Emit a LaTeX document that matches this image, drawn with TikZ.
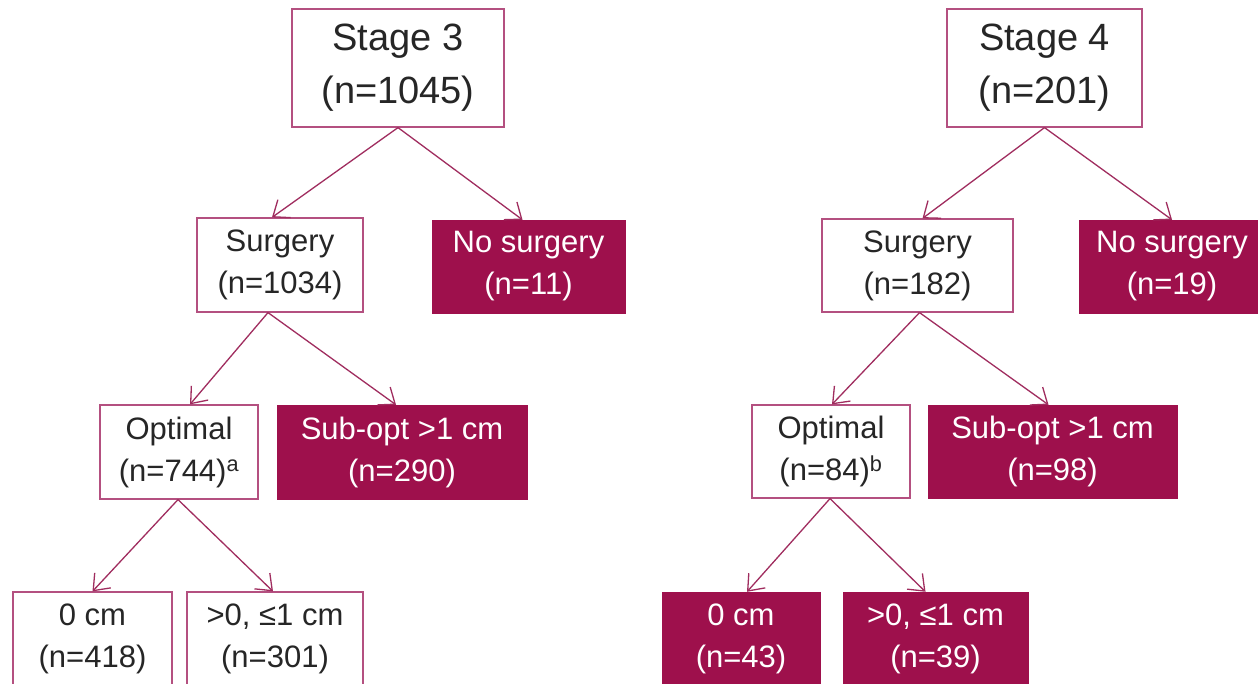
\documentclass[tikz,border=0pt]{standalone}
\usepackage{fontspec}
\setmainfont{Liberation Sans}
\usetikzlibrary{arrows.meta}
\definecolor{wine}{RGB}{158,16,76}
\definecolor{rose}{RGB}{180,80,128}
\definecolor{branchred}{RGB}{160,45,95}
\tikzset{
  plainbox/.style={draw=rose, line width=1.2pt, fill=white, text=black!85, align=center, inner sep=0pt, font=\fontsize{31}{42}\selectfont},
  winebox/.style={draw=wine, fill=wine, text=white, align=center, inner sep=0pt, font=\fontsize{31}{42}\selectfont},
  stagebox/.style={plainbox, font=\fontsize{38}{53}\selectfont},
  branch/.style={draw=branchred, line width=1.3pt, -{Straight Barb[length=14pt,width=22pt,line width=1.3pt]}}
}
\begin{document}
\begin{tikzpicture}[x=1pt,y=1pt,yscale=-1,xscale=1]
%set diagram to 1258 x 684
\fill[white] (0,0) rectangle (1258,684);
\clip (0,0) rectangle (1258,684);

%Shape: Rectangle [stage 3 tree]
\node[stagebox, minimum width=212pt, minimum height=118pt] (s3) at (398,68) {Stage 3\\(n=1045)};
\node[plainbox, minimum width=166pt, minimum height=94pt] (surg3) at (280,265) {Surgery\\(n=1034)};
\node[winebox, minimum width=193pt, minimum height=93pt] (nos3) at (528.5,266.5) {No surgery\\(n=11)};
\node[plainbox, minimum width=158pt, minimum height=94pt] (opt3) at (179,452) {Optimal\\(n=744)\textsuperscript{a}};
\node[winebox, minimum width=250pt, minimum height=94pt] (sub3) at (402,452) {Sub-opt >1 cm\\(n=290)};
\node[plainbox, minimum width=159pt, minimum height=94pt] (zero3) at (92.5,639) {0 cm\\(n=418)};
\node[plainbox, minimum width=176pt, minimum height=94pt] (pos3) at (275,639) {>0, ≤1 cm\\(n=301)};

%Shape: Rectangle [stage 4 tree]
\node[stagebox, minimum width=195pt, minimum height=118pt] (s4) at (1044.5,68) {Stage 4\\(n=201)};
\node[plainbox, minimum width=191pt, minimum height=93pt] (surg4) at (917.5,265.5) {Surgery\\(n=182)};
\node[winebox, minimum width=186pt, minimum height=93pt] (nos4) at (1172,266.5) {No surgery\\(n=19)};
\node[plainbox, minimum width=158pt, minimum height=93pt] (opt4) at (831,451.5) {Optimal\\(n=84)\textsuperscript{b}};
\node[winebox, minimum width=249pt, minimum height=93pt] (sub4) at (1052.5,451.5) {Sub-opt >1 cm\\(n=98)};
\node[winebox, minimum width=158pt, minimum height=94pt] (zero4) at (741,639) {0 cm\\(n=43)};
\node[winebox, minimum width=185pt, minimum height=94pt] (pos4) at (935.5,639) {>0, ≤1 cm\\(n=39)};

%Straight Lines [stage 3 branches]
\draw[branch] (s3.south) -- ([xshift=-8pt]surg3.north);
\draw[branch] (s3.south) -- ([xshift=-6pt]nos3.north);
\draw[branch] ([xshift=-12pt]surg3.south) -- ([xshift=11pt]opt3.north);
\draw[branch] ([xshift=-12pt]surg3.south) -- ([xshift=-6pt]sub3.north);
\draw[branch] ([xshift=-1pt]opt3.south) -- (zero3.north);
\draw[branch] ([xshift=-1pt]opt3.south) -- ([xshift=-2pt]pos3.north);

%Straight Lines [stage 4 branches]
\draw[branch] (s4.south) -- ([xshift=5pt]surg4.north);
\draw[branch] (s4.south) -- (nos4.north);
\draw[branch] ([xshift=2pt]surg4.south) -- ([xshift=1pt]opt4.north);
\draw[branch] ([xshift=2pt]surg4.south) -- ([xshift=-4pt]sub4.north);
\draw[branch] ([xshift=-1pt]opt4.south) -- ([xshift=6pt]zero4.north);
\draw[branch] ([xshift=-1pt]opt4.south) -- ([xshift=-10pt]pos4.north);

\end{tikzpicture}
\end{document}
